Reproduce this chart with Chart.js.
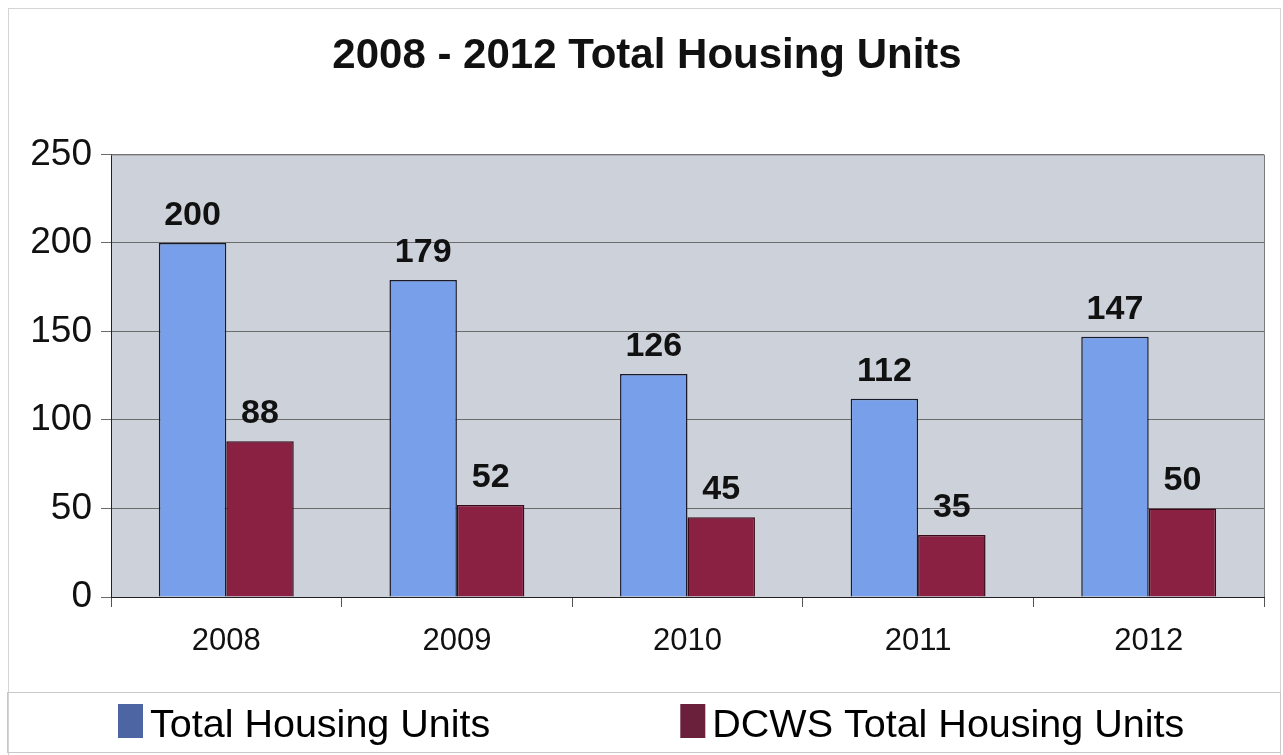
<!DOCTYPE html>
<html>
<head>
<meta charset="utf-8">
<script src="https://cdn.jsdelivr.net/npm/chart.js@4"></script>
<style>
  html, body { margin: 0; padding: 0; background: #ffffff; }
  #wrap { width: 1283px; height: 755px; position: relative; }
</style>
</head>
<body>
<div id="wrap"><canvas id="c" width="1283" height="755"></canvas></div>
<script>
const titleText = "2008 - 2012 Total Housing Units";
const categories = ["2008", "2009", "2010", "2011", "2012"];
const seriesNames = ["Total Housing Units", "DCWS Total Housing Units"];
const totalUnits = [200, 179, 126, 112, 147];
const dcwsUnits = [88, 52, 45, 35, 50];
const yTicks = [0, 50, 100, 150, 200, 250];

const barColors = ["#78A0EA", "#8A2143"];
const legendColors = ["#4D66A3", "#6A1F3A"];
const FONT = "'Liberation Sans', Arial, sans-serif";
const LEGEND_H = 63;
const TITLE_FONT = { family: FONT, size: 42, weight: 'bold' };

const bgPlugin = {
  id: 'bgPlugin',
  beforeDraw(chart) {
    const ctx = chart.ctx;
    ctx.save();
    ctx.fillStyle = '#ffffff';
    ctx.fillRect(0, 0, chart.width, chart.height);
    ctx.strokeStyle = '#d4d4d4';
    ctx.lineWidth = 1;
    ctx.strokeRect(8.5, 8.5, chart.width - 11, chart.height - 6);
    const a = chart.chartArea;
    ctx.fillStyle = '#CCD1DA';
    ctx.fillRect(a.left, a.top, a.right - a.left, a.bottom - a.top);
    ctx.restore();
  },
  afterDraw(chart) {
    const ctx = chart.ctx;
    const a = chart.chartArea;
    ctx.save();
    ctx.strokeStyle = '#7a7a7a';
    ctx.lineWidth = 1;
    ctx.beginPath();
    ctx.moveTo(a.left, a.top + 0.5);
    ctx.lineTo(a.right + 0.5, a.top + 0.5);
    ctx.lineTo(a.right + 0.5, a.bottom);
    ctx.stroke();
    // title text, centred on the whole frame
    const t = chart.titleBlock;
    ctx.font = "bold " + TITLE_FONT.size + "px " + FONT;
    ctx.fillStyle = '#111111';
    ctx.textAlign = 'center';
    ctx.textBaseline = 'middle';
    ctx.fillText(titleText, 647, t.top + 31 + TITLE_FONT.size * 0.6);
    // custom legend
    const top = chart.height - LEGEND_H;
    ctx.strokeStyle = '#c8c8c8';
    ctx.strokeRect(7.5, top + 0.5, chart.width - 10, LEGEND_H - 3);
    ctx.font = "39.5px " + FONT;
    ctx.textBaseline = 'alphabetic';
    ctx.textAlign = 'left';
    const boxW = 25, boxH = 34, gapBox = 7, gapItem = 190;
    let x = 118;
    const baseY = top + 45;
    chart.data.datasets.forEach((ds, i) => {
      ctx.fillStyle = legendColors[i];
      ctx.fillRect(x, baseY - 33, boxW, boxH);
      x += boxW + gapBox;
      ctx.fillStyle = '#000000';
      ctx.fillText(ds.label, x, baseY);
      x += ctx.measureText(ds.label).width + gapItem;
    });
    ctx.restore();
  }
};

const labelPlugin = {
  id: 'labelPlugin',
  afterDatasetsDraw(chart) {
    const ctx = chart.ctx;
    ctx.save();
    ctx.font = "bold 34px " + FONT;
    ctx.fillStyle = '#111111';
    ctx.textAlign = 'center';
    ctx.textBaseline = 'alphabetic';
    chart.data.datasets.forEach((ds, i) => {
      const meta = chart.getDatasetMeta(i);
      meta.data.forEach((bar, j) => {
        ctx.fillText(String(ds.data[j]), bar.x, bar.y - 18);
      });
    });
    ctx.restore();
  }
};

new Chart(document.getElementById('c'), {
  type: 'bar',
  data: {
    labels: categories,
    datasets: [
      { label: seriesNames[0], data: totalUnits, backgroundColor: barColors[0], borderColor: '#1a1a2a', borderWidth: 1.5 },
      { label: seriesNames[1], data: dcwsUnits, backgroundColor: barColors[1], borderColor: '#3a0a18', borderWidth: 1.5 }
    ]
  },
  options: {
    responsive: false,
    animation: false,
    devicePixelRatio: 1,
    layout: { padding: { left: 0, right: 19, top: 0, bottom: LEGEND_H } },
    datasets: { bar: { categoryPercentage: 0.585, barPercentage: 1.0 } },
    plugins: {
      title: {
        display: true,
        text: titleText,
        color: 'rgba(0,0,0,0)',
        font: TITLE_FONT,
        padding: { top: 31, bottom: 73 }
      },
      legend: { display: false },
      tooltip: { enabled: false }
    },
    scales: {
      x: {
        grid: { display: true, drawOnChartArea: false, drawTicks: true, tickLength: 10, color: '#555555', offset: true },
        border: { display: true, color: '#222222', width: 1 },
        ticks: { color: '#111111', font: { family: FONT, size: 31 }, padding: 16 },
        afterFit(s) { s.height = 95; }
      },
      y: {
        min: 0, max: 250,
        afterBuildTicks(s) { s.ticks = yTicks.map(v => ({ value: v })); },
        grid: { color: '#6b6b6b', lineWidth: 1, tickLength: 10 },
        border: { display: true, color: '#222222', width: 1 },
        ticks: { color: '#111111', font: { family: FONT, size: 37 }, padding: 9 },
        afterFit(s) { s.width = 111; }
      }
    }
  },
  plugins: [bgPlugin, labelPlugin]
});
</script>
</body>
</html>
